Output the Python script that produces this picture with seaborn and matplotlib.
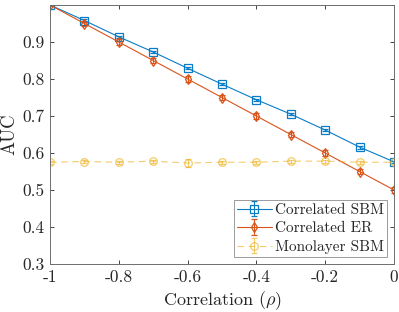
import numpy as np
import matplotlib
matplotlib.use("Agg")
import matplotlib.pyplot as plt
import seaborn as sns

# values
rho = [-1.0, -0.9, -0.8, -0.7, -0.6, -0.5, -0.4, -0.3, -0.2, -0.1, 0.0]
auc_sbm = [1.0, 0.958, 0.914, 0.873, 0.829, 0.786, 0.744, 0.705, 0.662, 0.616, 0.576]
err_sbm = [0.001, 0.003, 0.003, 0.003, 0.003, 0.003, 0.003, 0.003, 0.003, 0.004, 0.003]
auc_er = [1.0, 0.95, 0.90, 0.85, 0.80, 0.75, 0.70, 0.65, 0.60, 0.55, 0.50]
err_er = [0.002, 0.006, 0.007, 0.007, 0.007, 0.007, 0.007, 0.007, 0.007, 0.007, 0.007]
auc_mono = [0.575, 0.577, 0.575, 0.578, 0.573, 0.575, 0.575, 0.578, 0.578, 0.575, 0.575]
err_mono = [0.004, 0.004, 0.004, 0.004, 0.010, 0.004, 0.004, 0.004, 0.004, 0.004, 0.004]

labels = ["Correlated SBM", "Correlated ER", "Monolayer SBM"]
colors = ["#0a7cc6", "#D95319", "#EDB120"]

sns.set_theme(style="ticks")
plt.rcParams.update({
    "font.family": "serif",
    "font.serif": ["cmr10"],
    "mathtext.fontset": "cm",
    "axes.unicode_minus": False,
    "axes.formatter.use_mathtext": True,
})

fig = plt.figure(figsize=(3.99, 3.12), dpi=100)
ax = fig.add_axes([50 / 399, 48 / 312, 344 / 399, 259 / 312])

series = [
    (auc_sbm, err_sbm, "s", "-", 1.0),
    (auc_er, err_er, "d", "-", 1.0),
    (auc_mono, err_mono, "o", (0, (6, 4)), 0.65),
]
for (vals, errs, mk, ls, a), lab, c in zip(series, labels, colors):
    ax.errorbar(rho, vals, yerr=errs, color=c, marker=mk, markersize=5.5,
                markerfacecolor="none", markeredgewidth=0.9, linestyle=ls,
                linewidth=0.8, elinewidth=0.8, capsize=2.5, capthick=0.8,
                alpha=a, label=lab)

ax.set_xlim(-1, 0)
ax.set_ylim(0.3, 1.0)
ax.set_xticks(np.arange(-1, 0.01, 0.2))
ax.set_xticklabels(["-1", "-0.8", "-0.6", "-0.4", "-0.2", "0"])
ax.set_yticks(np.arange(0.3, 1.01, 0.1))
ax.set_yticklabels(["0.3", "0.4", "0.5", "0.6", "0.7", "0.8", "0.9", ""])
ax.tick_params(direction="in", length=3, width=0.6, color="#262626",
               labelsize=12.5, labelcolor="#262626", top=True, right=True, pad=4)
for s in ax.spines.values():
    s.set_color("#6e6e6e")
    s.set_linewidth(0.7)
    s.set_visible(True)

ax.set_xlabel(r"Correlation ($\rho$)", fontsize=13, color="#262626", labelpad=3)
ax.set_ylabel("AUC", fontsize=13.5, color="#262626", labelpad=3)

leg = ax.legend(loc="lower right", bbox_to_anchor=(0.98, 0.027), fontsize=11,
                frameon=True, fancybox=False, edgecolor="#6e6e6e",
                handlelength=2.3, handletextpad=0.2, borderpad=0.2,
                labelspacing=0.3, borderaxespad=0)
leg.get_frame().set_linewidth(0.6)

fig.savefig("out.png", dpi=100)
